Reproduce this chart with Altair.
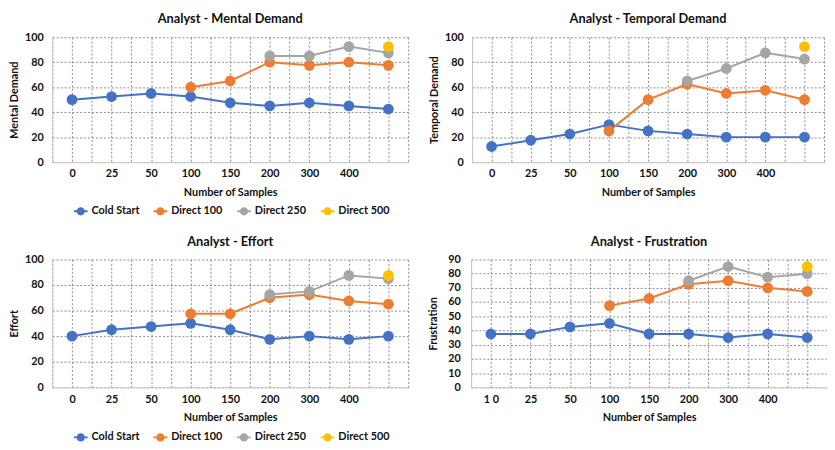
import json
import altair as alt
import pandas as pd

# ---- data ----
sample_idx = [0, 1, 2, 3, 4, 5, 6, 7, 8]
tick_labels = ["0", "25", "50", "100", "150", "200", "300", "400", ""]
tick_labels_frus = ["1 0", "25", "50", "100", "150", "200", "300", "400", ""]
series_names = ["Cold Start", "Direct 100", "Direct 250", "Direct 500"]
series_colors = ["#4472C4", "#ED7D31", "#A5A5A5", "#FFC000"]

N = None
mental_cold = [50, 52.5, 55, 52.5, 47.5, 45, 47.5, 45, 42.5]
mental_d100 = [N, N, N, 60, 65, 80, 77.5, 80, 77.5]
mental_d250 = [N, N, N, N, N, 85, 85, 92.5, 87.5]
mental_d500 = [N, N, N, N, N, N, N, N, 92.5]

temporal_cold = [12.5, 17.5, 22.5, 30, 25, 22.5, 20, 20, 20]
temporal_d100 = [N, N, N, 25, 50, 62.5, 55, 57.5, 50]
temporal_d250 = [N, N, N, N, N, 65, 75, 87.5, 82.5]
temporal_d500 = [N, N, N, N, N, N, N, N, 92.5]

effort_cold = [40, 45, 47.5, 50, 45, 37.5, 40, 37.5, 40]
effort_d100 = [N, N, N, 57.5, 57.5, 70, 72.5, 67.5, 65]
effort_d250 = [N, N, N, N, N, 72.5, 75, 87.5, 85]
effort_d500 = [N, N, N, N, N, N, N, N, 87.5]

frus_cold = [37.5, 37.5, 42.5, 45, 37.5, 37.5, 35, 37.5, 35]
frus_d100 = [N, N, N, 57.5, 62.5, 72.5, 75, 70, 67.5]
frus_d250 = [N, N, N, N, N, 75, 85, 77.5, 80]
frus_d500 = [N, N, N, N, N, N, N, N, 85]

panels = [
    dict(title="Analyst - Mental Demand", ytitle="Mental Demand", ymax=100, ystep=20,
         labels=tick_labels, series=[mental_cold, mental_d100, mental_d250, mental_d500],
         width=362, height=127, lpad=9, tpad=5, legy=170),
    dict(title="Analyst  -  Temporal Demand", ytitle="Temporal Demand", ymax=100, ystep=20,
         labels=tick_labels, series=[temporal_cold, temporal_d100, temporal_d250, temporal_d500],
         width=358, height=127, lpad=9, tpad=5, legy=170),
    dict(title="Analyst  - Effort", ytitle="Effort", ymax=100, ystep=20,
         labels=tick_labels, series=[effort_cold, effort_d100, effort_d250, effort_d500],
         width=362, height=130, lpad=9, tpad=5, legy=174),
    dict(title="Analyst  - Frustration", ytitle="Frustration", ymax=90, ystep=10,
         labels=tick_labels_frus, series=[frus_cold, frus_d100, frus_d250, frus_d500],
         width=362, height=130, lpad=11, tpad=9, legy=174),
]

FONT = "Lato"
GRID = "#6e6e6e"
# legend glyph: a short bar with a dot in the middle (filled shape)
SYMBOL = ("M-1,-0.13L1,-0.13L1,0.13L-1,0.13Z"
          "M-0.6,0A0.6,0.6,0,1,1,0.6,0A0.6,0.6,0,1,1,-0.6,0Z")


def make_panel(title, ytitle, ymax, ystep, labels, series, width, height, lpad, tpad, legy):
    rows = []
    for name, vals in zip(series_names, series):
        for i, v in zip(sample_idx, vals):
            if v is not None:
                rows.append({"idx": i, "series": name, "value": v})
    df = pd.DataFrame(rows)

    grid_vals = [x / 2 for x in range(-1, 18)]
    label_expr = ("datum.value % 1 == 0 && datum.value >= 0 ? "
                  + json.dumps(labels) + "[datum.value] : ''")
    x = alt.X("idx:Q", scale=alt.Scale(domain=[-0.5, 8.5], nice=False, zero=False),
              axis=alt.Axis(values=grid_vals, labelExpr=label_expr, ticks=False,
                            labelOverlap=False, labelFlush=False,
                            title="Number of Samples", gridColor=GRID,
                            gridDash=[2, 2], gridWidth=0.8, domainColor="#c8c8c8",
                            labelPadding=6, titlePadding=8))
    y = alt.Y("value:Q", scale=alt.Scale(domain=[0, ymax], nice=False),
              axis=alt.Axis(values=list(range(0, ymax + 1, ystep)), ticks=False,
                            title=ytitle, gridColor=GRID, gridDash=[2, 2],
                            gridWidth=0.8, domainColor="#c8c8c8", labelPadding=lpad,
                            titlePadding=tpad))
    color = alt.Color("series:N",
                      scale=alt.Scale(domain=series_names, range=series_colors),
                      legend=alt.Legend(orient="none", direction="horizontal",
                                        columns=4, legendX=22, legendY=legy,
                                        title=None, symbolType=SYMBOL,
                                        symbolSize=196, symbolStrokeWidth=0,
                                        columnPadding=14, labelOffset=4,
                                        padding=0))
    chart = alt.Chart(df).mark_line(
        strokeWidth=2,
        point=alt.OverlayMarkDef(filled=True, size=120, opacity=1),
    ).encode(x=x, y=y, color=color, order=alt.Order("idx:Q"))
    return chart.properties(
        width=width, height=height,
        title=alt.Title(title, fontSize=13, font=FONT, fontWeight="bold",
                        color="#111", offset=5))


charts = [make_panel(**p) for p in panels]
row1 = alt.hconcat(charts[0], charts[1], spacing=20)
row2 = alt.hconcat(charts[2], charts[3], spacing=20)
chart = alt.vconcat(row1, row2, spacing=20).resolve_legend(color="independent").configure(
    font=FONT
).configure_view(stroke=None).configure_axis(
    labelFont=FONT, titleFont=FONT, labelFontSize=11, titleFontSize=11,
    labelFontWeight="bold", titleFontWeight="bold", labelColor="#111",
    titleColor="#111"
).configure_legend(
    labelFont=FONT, labelFontSize=11, labelFontWeight="bold", labelColor="#111"
).properties(padding={"left": 0, "top": 2, "right": 0, "bottom": 0})

chart.save("out.html", embed_options={"renderer": "svg", "actions": False})
